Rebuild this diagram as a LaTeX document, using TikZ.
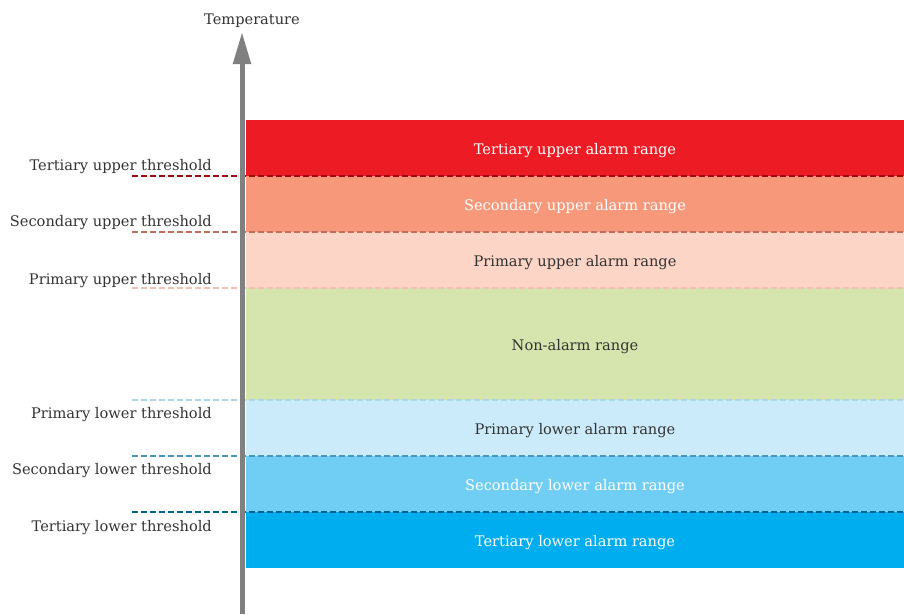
\documentclass[tikz,border=0pt]{standalone}
\usepackage{fontspec}
\setmainfont{DejaVu Serif}
\usetikzlibrary{arrows.meta,positioning}
\definecolor{TertUp}{RGB}{237,28,36}
\definecolor{SecUp}{RGB}{247,152,122}
\definecolor{PrimUp}{RGB}{253,213,199}
\definecolor{NonAlarm}{RGB}{213,229,173}
\definecolor{PrimLow}{RGB}{204,235,250}
\definecolor{SecLow}{RGB}{112,206,245}
\definecolor{TertLow}{RGB}{0,174,239}
\definecolor{TertUpLine}{RGB}{160,10,15}
\definecolor{SecUpLine}{RGB}{195,110,90}
\definecolor{PrimUpLine}{RGB}{245,192,176}
\definecolor{PrimLowLine}{RGB}{170,214,234}
\definecolor{SecLowLine}{RGB}{70,150,190}
\definecolor{TertLowLine}{RGB}{0,100,140}
\definecolor{AxisGray}{RGB}{128,128,128}
\definecolor{TextGray}{RGB}{51,51,51}

\begin{document}
\begin{tikzpicture}[x=1pt,y=-1pt,>=Latex,font=\fontsize{14.6}{16}\selectfont,
 band/.style={inner sep=0pt,outer sep=0pt,minimum width=658pt,minimum height=56pt,align=center,text height=12pt,text depth=0pt},
 thr/.style={dashed,dash pattern=on 6pt off 3pt,line width=1.2pt},
 lbl/.style={inner sep=0pt,text=TextGray}]
\useasboundingbox (0,0) rectangle (904,614);
\node[band,fill=TertUp,text=white,anchor=north west] (tu) at (246,120) {Tertiary upper alarm range};
\node[band,fill=SecUp,text=white,below=0pt of tu] (su) {Secondary upper alarm range};
\node[band,fill=PrimUp,text=TextGray,below=0pt of su] (pu) {Primary upper alarm range};
\node[band,fill=NonAlarm,text=TextGray,minimum height=112pt,below=0pt of pu] (na) {Non-alarm range};
\node[band,fill=PrimLow,text=TextGray,below=0pt of na] (pl) {Primary lower alarm range};
\node[band,fill=SecLow,text=white,below=0pt of pl] (sl) {Secondary lower alarm range};
\node[band,fill=TertLow,text=white,below=0pt of sl] (tl) {Tertiary lower alarm range};
% threshold lines
\draw[thr,TertUpLine] ([xshift=-114pt]tu.south west) -- (tu.south east);
\draw[thr,SecUpLine] ([xshift=-114pt]su.south west) -- (su.south east);
\draw[thr,PrimUpLine] ([xshift=-114pt]pu.south west) -- (pu.south east);
\draw[thr,PrimLowLine] ([xshift=-114pt]pl.north west) -- (pl.north east);
\draw[thr,SecLowLine] ([xshift=-114pt]sl.north west) -- (sl.north east);
\draw[thr,TertLowLine] ([xshift=-114pt]tl.north west) -- (tl.north east);
\node[lbl,anchor=base east] (tut) at ([xshift=-34pt,yshift=6pt]tu.south west) {Tertiary upper threshold};
\node[lbl,anchor=base east] (sut) at ([xshift=-34pt,yshift=6pt]su.south west) {Secondary upper threshold};
\node[lbl,anchor=base east] (put) at ([xshift=-34pt,yshift=4pt]pu.south west) {Primary upper threshold};
\node[lbl,anchor=base east] (plt) at ([xshift=-34pt,yshift=-18pt]pl.north west) {Primary lower threshold};
\node[lbl,anchor=base east] (slt) at ([xshift=-34pt,yshift=-18pt]sl.north west) {Secondary lower threshold};
\node[lbl,anchor=base east] (tlt) at ([xshift=-34pt,yshift=-19pt]tl.north west) {Tertiary lower threshold};
% axis
\coordinate (bottom) at (242,614);
\coordinate (top) at (242,32);
\draw[-{Triangle[length=32pt,width=17pt]},AxisGray,line width=5pt] (bottom) -- (top);
\node[lbl] (temp) at (252,21) {Temperature};
\end{tikzpicture}
\end{document}
